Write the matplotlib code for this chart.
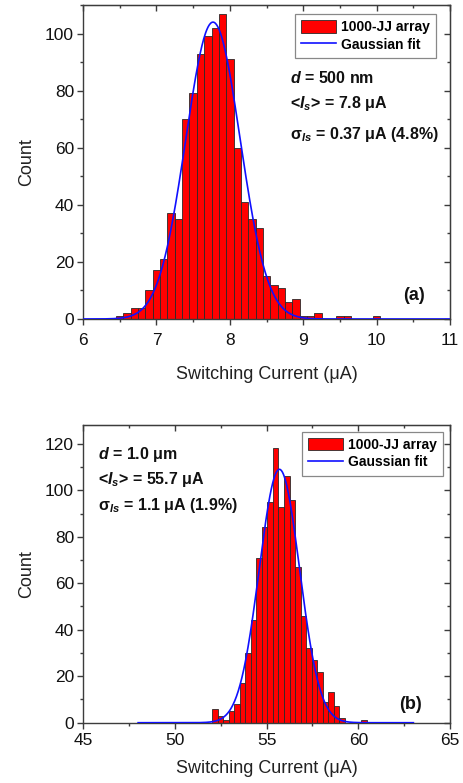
import numpy as np
import matplotlib
matplotlib.use("Agg")
from matplotlib import pyplot as plt
from matplotlib.ticker import MultipleLocator

plt.rcParams['font.family'] = ['Liberation Sans', 'DejaVu Sans']
plt.rcParams['mathtext.fontset'] = 'custom'
plt.rcParams['mathtext.it'] = 'Liberation Sans:bold:italic'
plt.rcParams['mathtext.rm'] = 'Liberation Sans:bold'
plt.rcParams['mathtext.bf'] = 'Liberation Sans:bold'

# ---------------------------------------------------------------------------
# panel (a): d = 500 nm, bin width 0.1 uA
centers_a = [6.5, 6.6, 6.7, 6.8, 6.9, 7.0, 7.1, 7.2, 7.3, 7.4, 7.5, 7.6, 7.7, 7.8,
             7.9, 8.0, 8.1, 8.2, 8.3, 8.4, 8.5, 8.6, 8.7, 8.8, 8.9, 9.0, 9.1, 9.2,
             9.5, 9.6, 10.0]
counts_a = [1, 2, 4, 4, 10, 17, 21, 37, 35, 70, 79, 93, 99, 102,
            107, 91, 60, 41, 35, 32, 15, 12, 11, 6, 7, 1, 1, 2,
            1, 1, 1]
width_a = 0.1
fit_a = dict(mu=7.77, sigma=0.37, amp=104.0, x0=6.0, x1=11.0)

# panel (b): d = 1.0 um, bin width 0.3 uA
centers_b = [52.2, 52.5, 52.8, 53.1, 53.4, 53.7, 54.0, 54.3, 54.6, 54.9, 55.2, 55.5,
             55.8, 56.1, 56.4, 56.7, 57.0, 57.3, 57.6, 57.9, 58.2, 58.5, 58.8, 59.1,
             60.3]
counts_b = [6, 3, 1, 5, 8, 17, 30, 44, 71, 84, 95, 118,
            93, 106, 96, 67, 46, 32, 27, 22, 9, 13, 7, 2,
            1]
width_b = 0.3
fit_b = dict(mu=55.7, sigma=1.1, amp=109.0, x0=48.0, x1=63.0)

text_a = ['$d$ = 500 nm', '<$I_s$> = 7.8 \u03bcA', '\u03c3$_{Is}$ = 0.37 \u03bcA (4.8%)']
text_b = ['$d$ = 1.0 \u03bcm', '<$I_s$> = 55.7 \u03bcA', '\u03c3$_{Is}$ = 1.1 \u03bcA (1.9%)']

SPINE = '#3c3c3c'


def draw_panel(ax, centers, counts, width, fit, xlim, ylim, xmaj, xmin, ymaj, ymin,
               lines, text_xy, label, label_xy, leg_anchor, tick_pad, xlabel_pad):
    bars = ax.bar(centers, counts, width=width, color='#ff0000', edgecolor='#2a2a2a',
                  linewidth=0.6, zorder=2)
    xs = np.linspace(fit['x0'], fit['x1'], 600)
    ys = fit['amp'] * np.exp(-(xs - fit['mu']) ** 2 / (2 * fit['sigma'] ** 2))
    line, = ax.plot(xs, ys, color='#1010ff', lw=1.2, zorder=3)

    ax.set_xlim(*xlim)
    ax.set_ylim(*ylim)
    ax.xaxis.set_major_locator(MultipleLocator(xmaj))
    ax.xaxis.set_minor_locator(MultipleLocator(xmin))
    ax.yaxis.set_major_locator(MultipleLocator(ymaj))
    ax.yaxis.set_minor_locator(MultipleLocator(ymin))
    ax.tick_params(which='both', direction='out', colors=SPINE, labelcolor='#111111',
                   labelsize=12.5, width=1.0)
    ax.tick_params(which='major', length=4.5, pad=2)
    ax.tick_params(axis='x', which='major', pad=tick_pad)
    ax.tick_params(which='minor', length=2.5)
    for s in ax.spines.values():
        s.set_color(SPINE)
        s.set_linewidth(1.0)

    # mirrored ticks on top/right, pointing inward
    top = ax.secondary_xaxis('top')
    top.xaxis.set_major_locator(MultipleLocator(xmaj))
    top.xaxis.set_minor_locator(MultipleLocator(xmin))
    top.tick_params(which='both', direction='in', colors=SPINE, labeltop=False, width=1.0)
    top.tick_params(which='major', length=4.5)
    top.tick_params(which='minor', length=2.5)
    right = ax.secondary_yaxis('right')
    right.yaxis.set_major_locator(MultipleLocator(ymaj))
    right.yaxis.set_minor_locator(MultipleLocator(ymin))
    right.tick_params(which='both', direction='in', colors=SPINE, labelright=False, width=1.0)
    right.tick_params(which='major', length=4.5)
    right.tick_params(which='minor', length=2.5)

    ax.set_xlabel('Switching Current (\u03bcA)', fontsize=13, color='#222222',
                  labelpad=xlabel_pad)
    ax.set_ylabel('Count', fontsize=13, color='#222222', labelpad=7)

    leg = ax.legend([bars, line], ['1000-JJ array', 'Gaussian fit'],
                    loc='upper right', bbox_to_anchor=leg_anchor,
                    prop={'weight': 'bold', 'size': 10}, fancybox=False,
                    edgecolor='#888888', framealpha=1, borderpad=0.45,
                    handlelength=2.5, handleheight=1.0, handletextpad=0.35,
                    labelspacing=0.25, borderaxespad=0)
    leg.get_frame().set_linewidth(0.9)

    for txt, y in zip(lines, text_xy[1]):
        ax.text(text_xy[0], y, txt, transform=ax.transAxes, fontsize=11.5,
                fontweight='bold', color='#111111', va='baseline', ha='left')
    ax.text(label_xy[0], label_xy[1], label, transform=ax.transAxes, fontsize=13,
            fontweight='bold', color='#111111', va='baseline', ha='right')


fig = plt.figure(figsize=(4.64, 7.83), dpi=100)
ax1 = fig.add_axes([0.179, 0.5926, 0.791, 0.401])
ax2 = fig.add_axes([0.179, 0.077, 0.791, 0.380])

draw_panel(ax1, centers_a, counts_a, width_a, fit_a, (6, 11), (0, 110), 1, 0.5, 20, 10,
           text_a, (0.564, [0.751, 0.672, 0.573]), '(a)', (0.932, 0.06), (0.962, 0.972),
           tick_pad=5.5, xlabel_pad=13)
draw_panel(ax2, centers_b, counts_b, width_b, fit_b, (45, 65), (0, 128), 5, 2.5, 20, 10,
           text_b, (0.041, [0.886, 0.802, 0.714]), '(b)', (0.924, 0.046), (0.98, 0.978),
           tick_pad=2.8, xlabel_pad=9)

fig.savefig('out.png', dpi=100)
